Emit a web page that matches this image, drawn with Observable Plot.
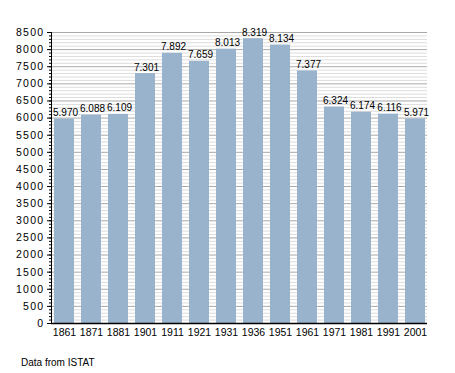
<!DOCTYPE html>
<html>
<head>
<meta charset="utf-8">
<script src="https://cdn.jsdelivr.net/npm/d3@7"></script>
<script src="https://cdn.jsdelivr.net/npm/@observablehq/plot@0.6"></script>
<style>
  body { margin: 0; background: #fff; font-family: "Liberation Sans", Arial, sans-serif; }
  #caption { font-size: 10px; line-height: 12px; padding-left: 21px; margin-top: 12px; color: #000; }
  svg { display: block; }
</style>
</head>
<body>
<div id="chart"></div>
<div id="caption">Data from ISTAT</div>
<script>
const years = ["1861","1871","1881","1901","1911","1921","1931","1936","1951","1961","1971","1981","1991","2001"];
const population = [5970, 6088, 6109, 7301, 7892, 7659, 8013, 8319, 8134, 7377, 6324, 6174, 6116, 5971];
const majorTicks = d3.range(0, 8501, 500);
const minorTicks = d3.range(0, 8501, 100);

const data = years.map((y, i) => ({year: y, value: population[i]}));
const fmt = d3.formatLocale({decimal: ",", thousands: ".", grouping: [3], currency: ["", ""]}).format(",");

const chart = Plot.plot({
  width: 455,
  height: 345,
  marginTop: 32,
  marginBottom: 22,
  marginLeft: 51,
  marginRight: 28,
  style: {fontFamily: "Liberation Sans, Arial, sans-serif", fontSize: "10px", background: "#fff"},
  x: {domain: years, paddingInner: 0.26, paddingOuter: 0.08, label: null},
  y: {domain: [0, 8500], label: null},
  marks: [
    Plot.ruleY(minorTicks.filter(d => d % 500 !== 0), {stroke: "#dcdcdc", strokeWidth: 1}),
    Plot.ruleY(majorTicks, {stroke: "#a8a8a8", strokeWidth: 1}),
    Plot.barY(data, {x: "year", y: "value", fill: "#9ab3cd"}),
    Plot.text(data, {x: "year", y: "value", text: d => fmt(d.value), dy: -3, dx: 1, lineAnchor: "bottom", fontSize: 10, fill: "#000"}),
    Plot.axisY(minorTicks, {tickSize: 2, text: null, stroke: "#000"}),
    Plot.axisY(majorTicks, {tickSize: 4, tickPadding: 3, stroke: "#000", fill: "#000", fontSize: 10.5, tickFormat: d => String(d), className: "ymajor"}),
    Plot.axisX({tickSize: 0, tickPadding: 5, fill: "#000", fontSize: 10.5}),
    Plot.frame({anchor: "left", stroke: "#000"}),
    Plot.ruleY([0], {stroke: "#000", strokeWidth: 1.5})
  ]
});
document.getElementById("chart").appendChild(chart);
d3.select(chart).selectAll(".ymajor text").attr("letter-spacing", "1.3px");
</script>
</body>
</html>
